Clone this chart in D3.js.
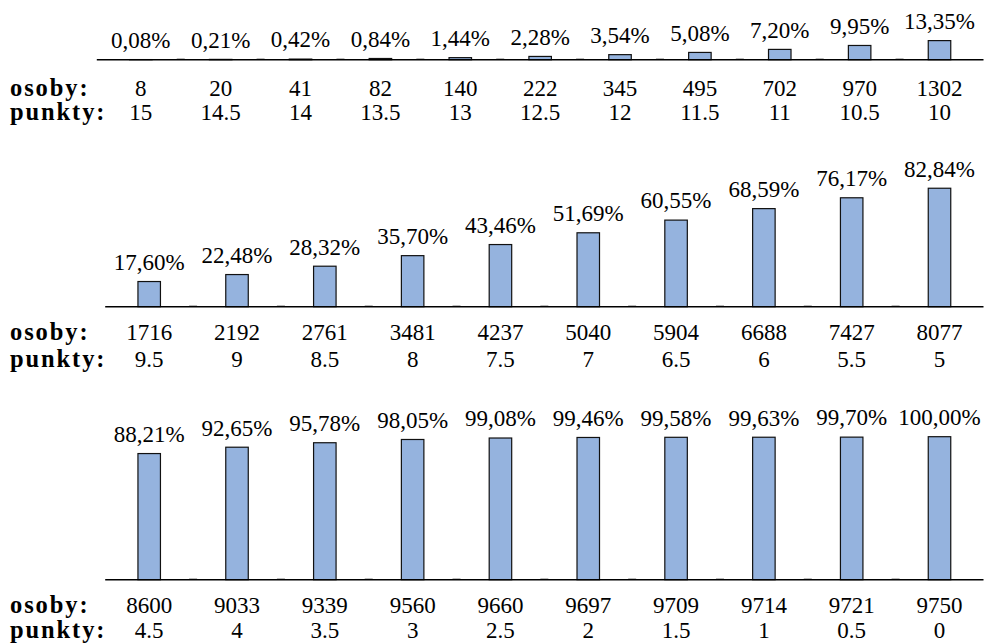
<!DOCTYPE html>
<html>
<head>
<meta charset="utf-8">
<script src="https://cdn.jsdelivr.net/npm/d3@7"></script>
<style>
  body { margin: 0; background: #fff; }
  text { font-family: "Liberation Serif", "Times New Roman", serif; fill: #000; }
</style>
</head>
<body>
<div id="chart"></div>
<script>
// values
var pct1 = [0.08, 0.21, 0.42, 0.84, 1.44, 2.28, 3.54, 5.08, 7.20, 9.95, 13.35];
var osoby1 = [8, 20, 41, 82, 140, 222, 345, 495, 702, 970, 1302];
var punkty1 = [15, 14.5, 14, 13.5, 13, 12.5, 12, 11.5, 11, 10.5, 10];

var pct2 = [17.60, 22.48, 28.32, 35.70, 43.46, 51.69, 60.55, 68.59, 76.17, 82.84];
var osoby2 = [1716, 2192, 2761, 3481, 4237, 5040, 5904, 6688, 7427, 8077];
var punkty2 = [9.5, 9, 8.5, 8, 7.5, 7, 6.5, 6, 5.5, 5];

var pct3 = [88.21, 92.65, 95.78, 98.05, 99.08, 99.46, 99.58, 99.63, 99.70, 100.00];
var osoby3 = [8600, 9033, 9339, 9560, 9660, 9697, 9709, 9714, 9721, 9750];
var punkty3 = [4.5, 4, 3.5, 3, 2.5, 2, 1.5, 1, 0.5, 0];

var rowLabels = ["osoby:", "punkty:"];

var svgWidth = 984;
var svgHeight = 643;

var svg = d3.select("#chart")
    .append("svg")
    .attr("width", svgWidth)
    .attr("height", svgHeight);

// same vertical scale in every panel
var yScale = d3.scaleLinear().domain([0, 100]).range([0, 143]);
var barWidth = 22.5;
var fmtPct = function(v) { return d3.format(".2f")(v).replace(".", ",") + "%"; };

var panels = [
    {pct: pct1, osoby: osoby1, punkty: punkty1, base: 59.7, first: 140.8, last: 939.5, row1: 36, row2: 60.5},
    {pct: pct2, osoby: osoby2, punkty: punkty2, base: 306.7, first: 149.2, last: 939.5, row1: 33.5, row2: 60},
    {pct: pct3, osoby: osoby3, punkty: punkty3, base: 579.7, first: 149.2, last: 939.5, row1: 33, row2: 58.5}
];

panels.forEach(function(p) {
    var idx = d3.range(p.pct.length);
    var x = d3.scalePoint().domain(idx).range([p.first, p.last]);
    var half = 44;
    var g = svg.append("g");

    g.selectAll(".bar")
        .data(idx)
        .enter()
        .append("rect")
        .attr("class", "bar")
        .attr("x", function(i) { return x(i) - barWidth / 2; })
        .attr("y", function(i) { return p.base - yScale(p.pct[i]); })
        .attr("width", barWidth)
        .attr("height", function(i) { return yScale(p.pct[i]); })
        .attr("fill", "#95b3de")
        .attr("stroke", "#111")
        .attr("stroke-width", 1.2);

    // axis line
    g.append("line")
        .attr("x1", p.first - half)
        .attr("x2", p.last + half)
        .attr("y1", p.base)
        .attr("y2", p.base)
        .attr("stroke", "#000")
        .attr("stroke-width", 1.4);

    // small grey marks between categories
    g.selectAll(".tick")
        .data(idx.slice(1))
        .enter()
        .append("line")
        .attr("x1", function(i) { return (x(i) + x(i - 1)) / 2 - 4; })
        .attr("x2", function(i) { return (x(i) + x(i - 1)) / 2 + 4; })
        .attr("y1", p.base - 1.2)
        .attr("y2", p.base - 1.2)
        .attr("stroke", "#bbb")
        .attr("stroke-width", 1);

    g.selectAll(".pct")
        .data(idx)
        .enter()
        .append("text")
        .attr("class", "pct")
        .attr("x", function(i) { return x(i); })
        .attr("y", function(i) { return p.base - yScale(p.pct[i]) - 11.7; })
        .attr("text-anchor", "middle")
        .style("font-size", "23px")
        .text(function(i) { return fmtPct(p.pct[i]); });

    g.selectAll(".osoby")
        .data(idx)
        .enter()
        .append("text")
        .attr("x", function(i) { return x(i); })
        .attr("y", p.base + p.row1)
        .attr("text-anchor", "middle")
        .style("font-size", "23px")
        .text(function(i) { return p.osoby[i]; });

    g.selectAll(".punkty")
        .data(idx)
        .enter()
        .append("text")
        .attr("x", function(i) { return x(i); })
        .attr("y", p.base + p.row2)
        .attr("text-anchor", "middle")
        .style("font-size", "23px")
        .text(function(i) { return String(p.punkty[i]); });

    [p.row1, p.row2].forEach(function(off, k) {
        g.append("text")
            .attr("x", 10)
            .attr("y", p.base + off)
            .style("font-size", "24.5px")
            .style("font-weight", "bold")
            .style("letter-spacing", "1.9px")
            .text(rowLabels[k]);
    });
});
</script>
</body>
</html>
